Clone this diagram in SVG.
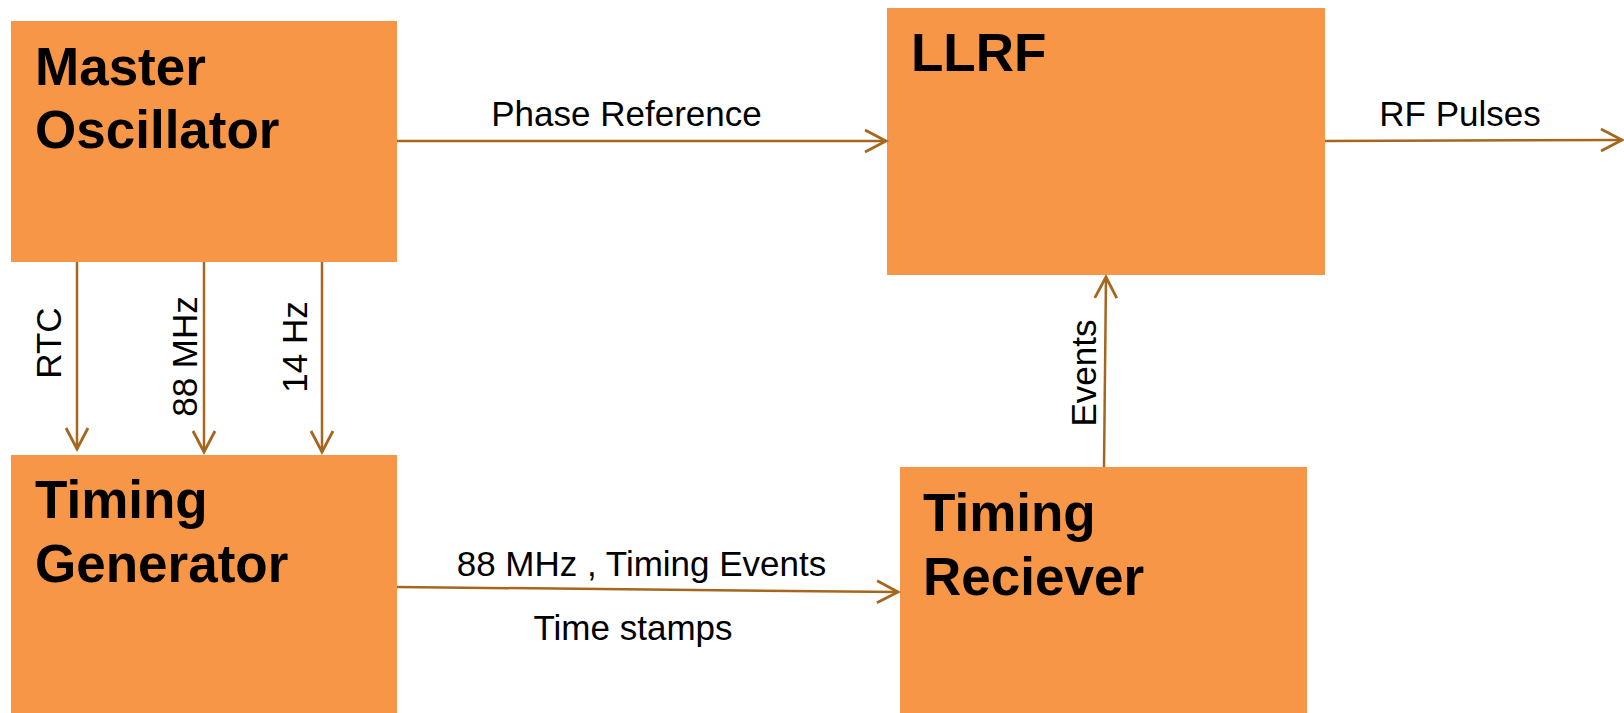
<svg xmlns="http://www.w3.org/2000/svg" width="1624" height="713" viewBox="0 0 1624 713">
<style>
.box{fill:#F79646;stroke:none}
.title{font-family:"Liberation Sans",Arial,sans-serif;font-weight:bold;font-size:53px;fill:#000}
.lbl{font-family:"Liberation Sans",Arial,sans-serif;font-size:35px;fill:#000}
.conn{stroke:#A5661E;stroke-width:2.5;fill:none}
</style>
<defs>
<marker id="arr" markerUnits="userSpaceOnUse" viewBox="-24 -14 26 28" refX="0" refY="0" markerWidth="26" markerHeight="28" orient="auto" overflow="visible">
<path d="M-21,-11 L0,0 L-21,11" fill="none" stroke="#A5661E" stroke-width="2.8"/>
</marker>
</defs>
<rect width="1624" height="713" fill="#fff"/>
<g id="master-oscillator">
<rect class="box" x="11" y="21" width="386" height="241"/>
<text class="title" x="35" y="85">Master</text>
<text class="title" x="35" y="148">Oscillator</text>
</g>
<g id="llrf">
<rect class="box" x="887" y="8" width="438" height="267"/>
<text class="title" x="911" y="71">LLRF</text>
</g>
<g id="timing-generator">
<rect class="box" x="11" y="455" width="386" height="262"/>
<text class="title" x="35" y="518">Timing</text>
<text class="title" x="35" y="582">Generator</text>
</g>
<g id="timing-receiver">
<rect class="box" x="900" y="467" width="407" height="250"/>
<text class="title" x="923" y="531">Timing</text>
<text class="title" x="923" y="595">Reciever</text>
</g>
<g id="connectors">
<line class="conn" x1="397" y1="141" x2="886" y2="141" marker-end="url(#arr)"/>
<text class="lbl" x="626.5" y="126" text-anchor="middle">Phase Reference</text>
<line class="conn" x1="1325" y1="141" x2="1622" y2="140" marker-end="url(#arr)"/>
<text class="lbl" x="1460" y="126" text-anchor="middle">RF Pulses</text>
<line class="conn" x1="77" y1="262" x2="77" y2="449" marker-end="url(#arr)"/>
<text class="lbl" text-anchor="middle" transform="translate(61,343) rotate(-90)">RTC</text>
<line class="conn" x1="204" y1="262" x2="204" y2="452" marker-end="url(#arr)"/>
<text class="lbl" text-anchor="middle" transform="translate(197,356.5) rotate(-90)">88 MHz</text>
<line class="conn" x1="322" y1="262" x2="322" y2="452" marker-end="url(#arr)"/>
<text class="lbl" text-anchor="middle" transform="translate(307,347) rotate(-90)">14 Hz</text>
<line class="conn" x1="1104" y1="467" x2="1106" y2="277" marker-end="url(#arr)"/>
<text class="lbl" text-anchor="middle" transform="translate(1096,373) rotate(-90)">Events</text>
<line class="conn" x1="397" y1="587" x2="898" y2="592" marker-end="url(#arr)"/>
<text class="lbl" x="641.5" y="576" text-anchor="middle">88 MHz , Timing Events</text>
<text class="lbl" x="633" y="640" text-anchor="middle">Time stamps</text>
</g>
</svg>
